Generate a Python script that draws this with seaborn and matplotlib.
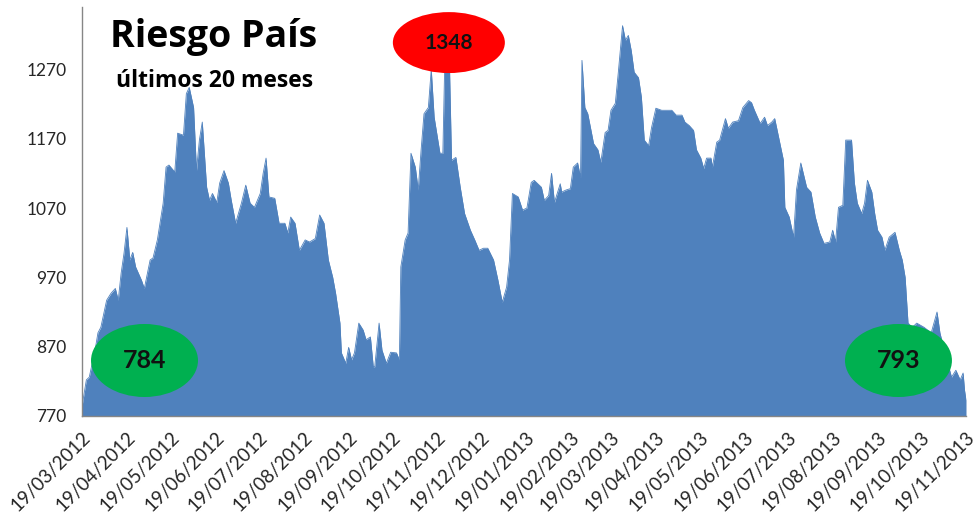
import pandas as pd
import matplotlib
matplotlib.use("Agg")
import matplotlib.pyplot as plt
from matplotlib.patches import Ellipse
import seaborn as sns

# Riesgo pais (puntos basicos), lectura del grafico original
fechas = [
    "2012-03-19", "2012-03-22", "2012-03-24", "2012-03-28", "2012-03-30", "2012-04-01", "2012-04-05",
    "2012-04-08", "2012-04-11", "2012-04-13", "2012-04-15", "2012-04-17", "2012-04-19", "2012-04-21",
    "2012-04-23", "2012-04-25", "2012-04-29", "2012-05-01", "2012-05-05", "2012-05-07", "2012-05-10",
    "2012-05-14", "2012-05-16", "2012-05-18", "2012-05-22", "2012-05-24", "2012-05-28", "2012-05-30",
    "2012-06-01", "2012-06-04", "2012-06-06", "2012-06-08", "2012-06-10", "2012-06-13", "2012-06-15",
    "2012-06-17", "2012-06-20", "2012-06-22", "2012-06-25", "2012-06-28", "2012-06-30", "2012-07-03",
    "2012-07-07", "2012-07-10", "2012-07-13", "2012-07-16", "2012-07-20", "2012-07-22", "2012-07-24",
    "2012-07-26", "2012-07-30", "2012-08-02", "2012-08-06", "2012-08-08", "2012-08-10", "2012-08-13",
    "2012-08-16", "2012-08-20", "2012-08-23", "2012-08-27", "2012-08-30", "2012-09-02", "2012-09-05",
    "2012-09-08", "2012-09-10", "2012-09-13", "2012-09-14", "2012-09-17", "2012-09-19", "2012-09-21",
    "2012-09-23", "2012-09-26", "2012-09-29", "2012-10-01", "2012-10-04", "2012-10-06", "2012-10-07",
    "2012-10-10", "2012-10-12", "2012-10-15", "2012-10-18", "2012-10-22", "2012-10-24", "2012-10-25",
    "2012-10-28", "2012-10-30", "2012-11-01", "2012-11-04", "2012-11-06", "2012-11-08", "2012-11-10",
    "2012-11-13", "2012-11-15", "2012-11-17", "2012-11-21", "2012-11-23", "2012-11-25", "2012-11-27",
    "2012-11-29", "2012-12-02", "2012-12-05", "2012-12-08", "2012-12-12", "2012-12-15", "2012-12-18",
    "2012-12-21", "2012-12-24", "2012-12-28", "2012-12-31", "2013-01-03", "2013-01-06", "2013-01-08",
    "2013-01-10", "2013-01-14", "2013-01-17", "2013-01-20", "2013-01-23", "2013-01-25", "2013-01-30",
    "2013-02-01", "2013-02-04", "2013-02-06", "2013-02-08", "2013-02-12", "2013-02-13", "2013-02-16",
    "2013-02-19", "2013-02-21", "2013-02-24", "2013-02-26", "2013-02-27", "2013-03-01", "2013-03-03",
    "2013-03-07", "2013-03-10", "2013-03-12", "2013-03-15", "2013-03-17", "2013-03-19", "2013-03-22",
    "2013-03-24", "2013-03-27", "2013-03-29", "2013-03-31", "2013-04-02", "2013-04-04", "2013-04-07",
    "2013-04-09", "2013-04-11", "2013-04-14", "2013-04-16", "2013-04-19", "2013-04-23", "2013-04-26",
    "2013-04-30", "2013-05-03", "2013-05-07", "2013-05-09", "2013-05-12", "2013-05-15", "2013-05-17",
    "2013-05-20", "2013-05-22", "2013-05-24", "2013-05-27", "2013-05-28", "2013-05-31", "2013-06-02",
    "2013-06-06", "2013-06-08", "2013-06-11", "2013-06-15", "2013-06-18", "2013-06-22", "2013-06-24",
    "2013-06-26", "2013-06-30", "2013-07-03", "2013-07-05", "2013-07-08", "2013-07-10", "2013-07-12",
    "2013-07-16", "2013-07-17", "2013-07-20", "2013-07-23", "2013-07-25", "2013-07-28", "2013-08-01",
    "2013-08-04", "2013-08-07", "2013-08-10", "2013-08-13", "2013-08-17", "2013-08-19", "2013-08-21",
    "2013-08-23", "2013-08-26", "2013-08-28", "2013-09-01", "2013-09-03", "2013-09-05", "2013-09-08",
    "2013-09-10", "2013-09-12", "2013-09-15", "2013-09-17", "2013-09-19", "2013-09-22", "2013-09-24",
    "2013-09-27", "2013-10-01", "2013-10-04", "2013-10-06", "2013-10-08", "2013-10-10", "2013-10-13",
    "2013-10-16", "2013-10-21", "2013-10-26", "2013-10-30", "2013-11-01", "2013-11-04", "2013-11-09",
    "2013-11-12", "2013-11-15", "2013-11-17", "2013-11-18", "2013-11-19",
]
valores = [
    784, 822, 826, 865, 890, 898, 937,
    947, 954, 937, 976, 1005, 1042, 995,
    1006, 985, 966, 954, 995, 998, 1024,
    1077, 1129, 1132, 1122, 1178, 1175, 1235,
    1244, 1215, 1124, 1168, 1194, 1100, 1081,
    1091, 1078, 1106, 1124, 1106, 1081, 1048,
    1077, 1103, 1077, 1071, 1091, 1120, 1142,
    1086, 1084, 1048, 1048, 1034, 1057, 1048,
    1009, 1024, 1021, 1026, 1060, 1048, 995,
    970, 947, 904, 861, 846, 869, 851,
    861, 904, 894, 880, 884, 841, 841,
    904, 865, 846, 862, 861, 851, 985,
    1024, 1034, 1149, 1129, 1096, 1154, 1206,
    1215, 1270, 1201, 1149, 1149, 1348, 1330,
    1139, 1143, 1100, 1062, 1038, 1024, 1009,
    1012, 1012, 995, 966, 934, 956, 995,
    1091, 1086, 1067, 1070, 1107, 1110, 1100,
    1081, 1088, 1120, 1078, 1105, 1093, 1096,
    1098, 1129, 1135, 1114, 1283, 1215, 1206,
    1163, 1154, 1136, 1179, 1182, 1211, 1221,
    1264, 1333, 1312, 1319, 1297, 1266, 1258,
    1230, 1168, 1160, 1186, 1214, 1211, 1211,
    1211, 1204, 1204, 1194, 1189, 1182, 1154,
    1142, 1127, 1142, 1142, 1129, 1165, 1168,
    1199, 1185, 1194, 1196, 1215, 1225, 1222,
    1211, 1192, 1201, 1189, 1194, 1199, 1179,
    1139, 1071, 1057, 1028, 1096, 1135, 1100,
    1093, 1057, 1034, 1019, 1021, 1038, 1021,
    1071, 1074, 1168, 1168, 1106, 1077, 1062,
    1077, 1110, 1093, 1062, 1038, 1028, 1009,
    1028, 1035, 1009, 995, 970, 904, 898,
    904, 898, 890, 920, 890, 865, 826,
    836, 822, 832, 807, 793,
]

fechas_eje = [
    "2012-03-19", "2012-04-19", "2012-05-19", "2012-06-19", "2012-07-19", "2012-08-19", "2012-09-19",
    "2012-10-19", "2012-11-19", "2012-12-19", "2013-01-19", "2013-02-19", "2013-03-19", "2013-04-19",
    "2013-05-19", "2013-06-19", "2013-07-19", "2013-08-19", "2013-09-19", "2013-10-19", "2013-11-19",
]
ticks_y = [770, 870, 970, 1070, 1170, 1270]

# destacados: valor inicial, maximo, valor final
destacados = ["784", "1348", "793"]
colores_destacados = ["#00B050", "#FF0000", "#00B050"]

df = pd.DataFrame({"fecha": pd.to_datetime(fechas), "valor": valores})
ticks_x = pd.to_datetime(fechas_eje)

sns.set_style("white")
plt.rcParams["font.family"] = ["Lato", "DejaVu Sans"]

azul = "#4F81BD"
gris = "#868686"

fig = plt.figure(figsize=(9.77, 5.19), dpi=100)
ax = fig.add_axes([82 / 977, 1 - 416 / 519, 884 / 977, 409 / 519])

sns.lineplot(data=df, x="fecha", y="valor", ax=ax, color=azul, linewidth=0.6)
ax.fill_between(df["fecha"], df["valor"], 770, color=azul, linewidth=0)

ax.set_xlim(ticks_x[0], ticks_x[-1])
ax.set_ylim(770, 1360)
ax.set_yticks(ticks_y)
ax.set_yticklabels([str(t) for t in ticks_y], fontsize=12.5, color="#262626")
ax.set_xticks(ticks_x)
ax.set_xticklabels([f.strftime("%d/%m/%Y") for f in ticks_x], rotation=45,
                   ha="right", rotation_mode="anchor", fontsize=13.5, color="#262626")
ax.set_xlabel("")
ax.set_ylabel("")

for lado in ["top", "right"]:
    ax.spines[lado].set_visible(False)
for lado in ["left", "bottom"]:
    ax.spines[lado].set_color(gris)
    ax.spines[lado].set_linewidth(1)
ax.tick_params(axis="both", direction="out", length=5, width=1, color=gris)
ax.tick_params(axis="y", pad=6)
ax.tick_params(axis="x", pad=4)
ax.grid(False)

# globos
pos_globos = [(0.0707, 0.1357, 0.121, 0.1785), (0.415, 0.913, 0.1267, 0.149),
              (0.9236, 0.1357, 0.121, 0.1785)]
tam_texto = [18, 15, 18]
for (cx, cy, w, h), txt, col, fs in zip(pos_globos, destacados, colores_destacados, tam_texto):
    ax.add_patch(Ellipse((cx, cy), w, h, transform=ax.transAxes, facecolor=col,
                         edgecolor="none", zorder=5, clip_on=False))
    ax.text(cx, cy, txt, transform=ax.transAxes, ha="center", va="center",
            fontsize=fs, fontweight="bold", color="#111111", zorder=6)

fig.text(214 / 977, 1 - 46.5 / 519, "Riesgo País", ha="center", va="baseline",
         fontsize=27, fontweight="bold", color="black", family=["Open Sans", "DejaVu Sans"])
fig.text(215 / 977, 1 - 87 / 519, "últimos 20 meses", ha="center", va="baseline",
         fontsize=16.5, fontweight="bold", color="black", family=["Open Sans", "DejaVu Sans"])

fig.savefig("out.png", dpi=100, facecolor="white")
